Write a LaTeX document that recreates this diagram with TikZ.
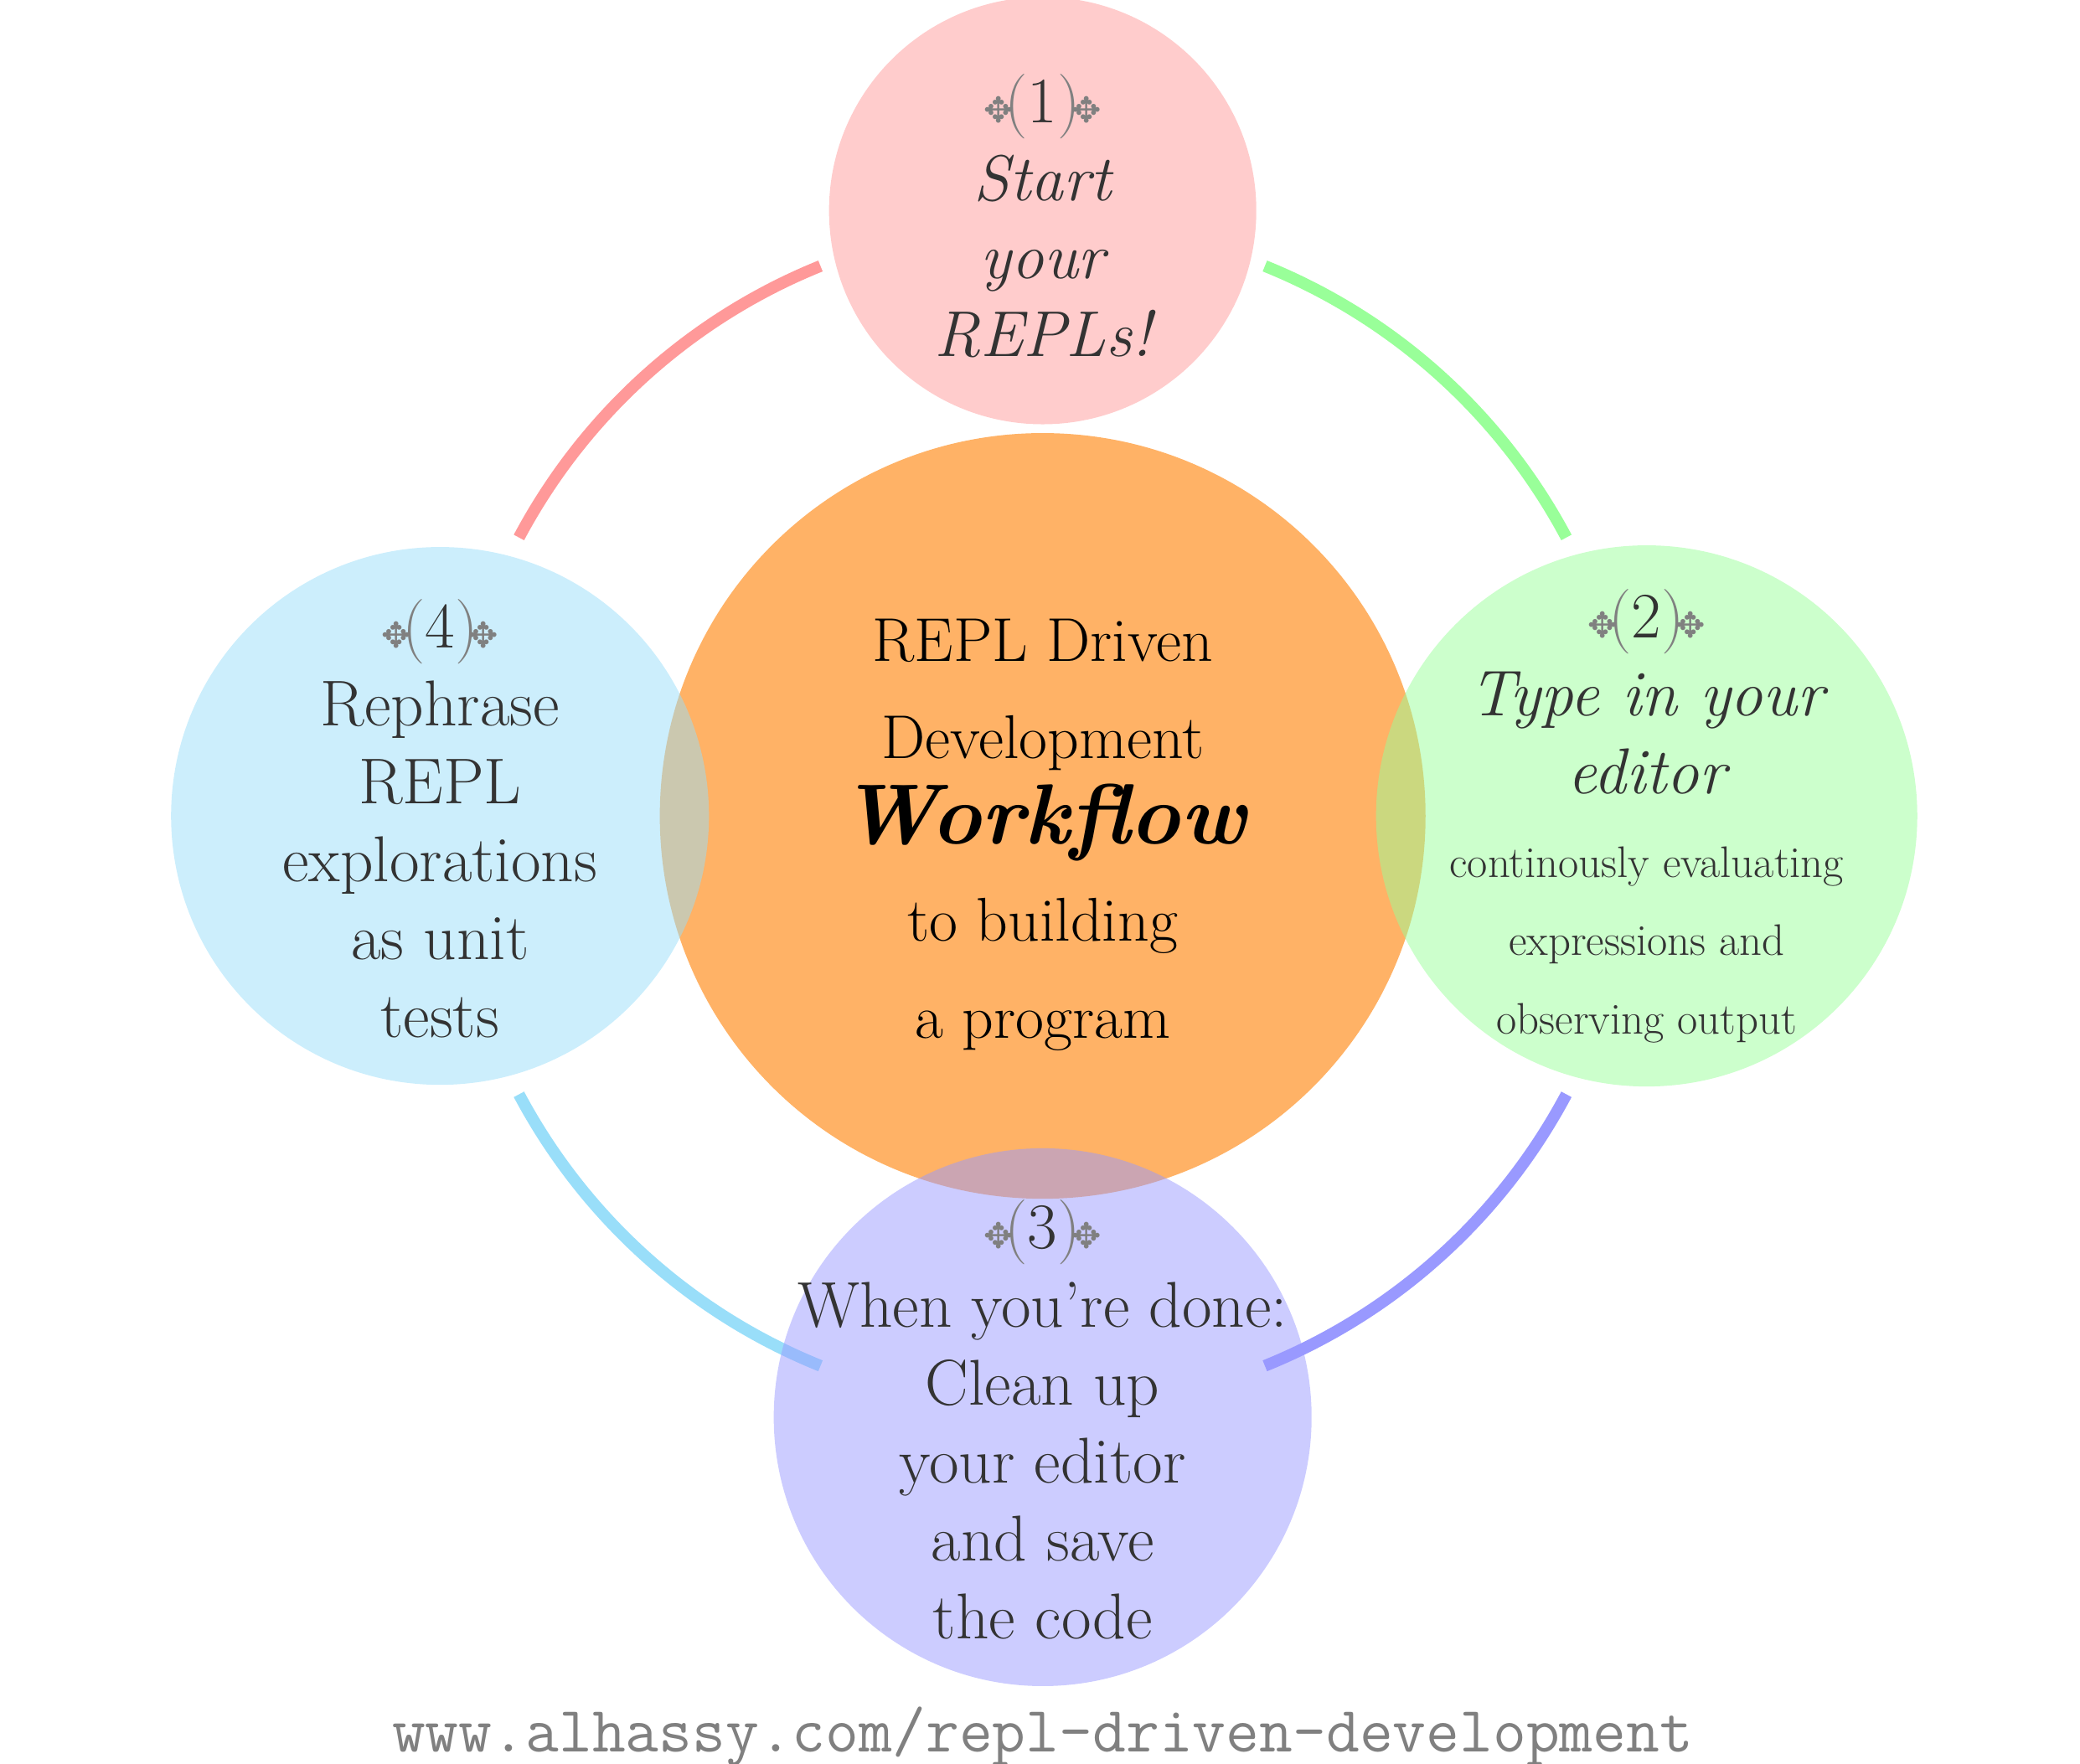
\documentclass[tikz,border=0pt]{standalone}
\usepackage{fontspec}
\newfontfamily\djv{DejaVu Sans}
\newcommand{\myornl}{\textcolor{gray}{{\djv\fontsize{12}{12}\selectfont ✥}\kern-3pt(}}
\newcommand{\myornr}{\textcolor{gray}{)\kern-3pt{\djv\fontsize{12}{12}\selectfont ✥}}}
\newcommand{\bigf}{\fontsize{22}{26.5}\selectfont}
\newcommand{\smf}{\fontsize{15}{26.5}\selectfont}
\begin{document}
\begin{tikzpicture}[x=0.01592cm,y=-0.01592cm,
  sat/.style={circle,inner sep=0pt,fill opacity=0.5,text opacity=1,text=black!80,align=center},
  arcline/.style={line width=0.14cm},
]
\useasboundingbox (0,0) rectangle (1560,1323);
\node[circle,fill=orange!60,minimum size=9.14cm,inner sep=0pt] (c) at (782,612) {};
\node[align=center,font=\fontsize{21}{33}\selectfont] (ct) at (782,626)
  {REPL Driven\\ Development\\[-4pt] \fontsize{29}{33}\selectfont\bfseries\itshape Workflow\\ to building\\ a program};
% arcs
\coordinate (o) at (782,612);
\draw[arcline,red!40] (o) ++(112:7.08cm) arc[start angle=112,end angle=152,radius=7.08cm];
\draw[arcline,green!40] (o) ++(28:7.08cm) arc[start angle=28,end angle=68,radius=7.08cm];
\draw[arcline,blue!40] (o) ++(-28:7.08cm) arc[start angle=-28,end angle=-68,radius=7.08cm];
\draw[arcline,cyan!40] (o) ++(-112:7.08cm) arc[start angle=-112,end angle=-152,radius=7.08cm];
% satellites
\node[sat,fill=red!40,minimum size=5.1cm] (s1) at (782,158) {};
\node[align=center,text=black!80,font=\bigf] (t1) at (782,162)
  {\myornl 1\myornr\\ \itshape Start\\ \itshape your\\ \itshape REPLs!};
\node[sat,fill=green!40,minimum size=6.46cm] (s2) at (1235,612) {};
\node[align=center,text=black!80,font=\bigf] (t2) at (1235,612)
  {\myornl 2\myornr\\ \itshape Type in your\\ \itshape editor\\[2pt]
   \smf continously evaluating\\ \smf expressions and\\ \smf observing output};
\node[sat,fill=blue!40,minimum size=6.42cm] (s3) at (782,1063) {};
\node[align=center,text=black!80,font=\bigf] (t3) at (782,1065)
  {\myornl 3\myornr\\When you're done:\\Clean up\\ your editor\\and save\\the code};
\node[sat,fill=cyan!40,minimum size=6.42cm] (s4) at (330,612) {};
\node[align=center,text=black!80,font=\bigf] (t4) at (330,614)
  {\myornl 4\myornr\\Rephrase\\REPL\\explorations\\as unit\\tests};
\node[text=gray,font=\fontsize{22}{26}\selectfont\ttfamily] (url) at (782,1303) {www.alhassy.com/repl-driven-development};
\end{tikzpicture}
\end{document}
